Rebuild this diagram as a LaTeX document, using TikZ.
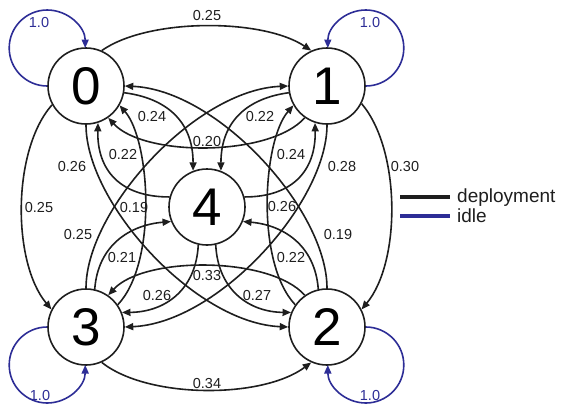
\documentclass[tikz,border=0pt]{standalone}
\usepackage{fontspec}
\setmainfont{Liberation Sans}
\usetikzlibrary{arrows.meta}
\definecolor{idleblue}{RGB}{45,45,150}
\definecolor{edgeblack}{RGB}{30,30,30}
\begin{document}
\begin{tikzpicture}[x=1pt,y=-1pt,
  state/.style={circle,draw=edgeblack,fill=white,line width=1.6pt,minimum size=76pt,inner sep=0pt,font=\fontsize{53}{60}\selectfont},
  dep/.style={draw=edgeblack,line width=1.6pt,-{Triangle[length=8.5pt,width=7pt]}},
  idle/.style={draw=idleblue,line width=1.6pt,-{Triangle[length=8.5pt,width=7pt]}},
  lbl/.style={font=\fontsize{14.5}{17}\selectfont,inner sep=0pt,text=edgeblack},
  ilbl/.style={lbl,text=idleblue},
  leg/.style={font=\fontsize{19}{22}\selectfont,inner sep=0pt,anchor=base west,text=edgeblack}]
\useasboundingbox (0,0) rectangle (561,405);
% states
\node[state] (n0) at (86,86) {0};
\node[state] (n1) at (327,86) {1};
\node[state] (n2) at (327,327) {2};
\node[state] (n3) at (86,327) {3};
\node[state] (n4) at (207,207) {4};
% self loops
\draw[idle] (n0.west) arc[start angle=270,end angle=0,radius=38pt];
\draw[idle] (n1.east) arc[start angle=-90,end angle=180,radius=38pt];
\draw[idle] (n2.east) arc[start angle=90,end angle=-180,radius=38pt];
\draw[idle] (n3.west) arc[start angle=90,end angle=360,radius=38pt];
\node[ilbl] (l00) at (39,23) {1.0};
\node[ilbl] (l11) at (370,23) {1.0};
\node[ilbl] (l22) at (370,395) {1.0};
\node[ilbl] (l33) at (40,395) {1.0};
% outer edges
\draw[dep] (n0.66) .. controls (148,18) and (262,18) .. (n1.114);
\draw[dep] (n1.-27) .. controls (401,150) and (401,262) .. (n2.27);
\draw[dep] (n3.-66) .. controls (148,399) and (262,399) .. (n2.-114);
\draw[dep] (n0.-151) .. controls (12,150) and (12,262) .. (n3.153);
\node[lbl] (l01) at (207,16) {0.25};
\node[lbl] (l12) at (405,167) {0.30};
\node[lbl] (l32) at (207,383) {0.34};
\node[lbl] (l03) at (39,208) {0.25};
% to and from 4
\draw[dep] (n0.-10) .. controls (165,98) and (193,120) .. (n4.111);
\draw[dep] (n1.190) .. controls (249,98) and (221,120) .. (n4.69);
\draw[dep] (n4.165) .. controls (120,197) and (97,170) .. (n0.-72);
\draw[dep] (n4.15) .. controls (293,197) and (316,170) .. (n1.-108);
\draw[dep] (n3.77) .. controls (98,245) and (130,225) .. (n4.-158);
\draw[dep] (n2.103) .. controls (315,245) and (283,225) .. (n4.-22);
\draw[dep] (n4.-103) .. controls (196,290) and (165,312) .. (n3.22);
\draw[dep] (n4.-77) .. controls (218,290) and (249,312) .. (n2.158);
\node[lbl] (l04) at (152,117) {0.24};
\node[lbl] (l14) at (260,117) {0.22};
\node[lbl] (l40) at (123,155) {0.22};
\node[lbl] (l41) at (291,155) {0.24};
\node[lbl] (l34) at (122,258) {0.21};
\node[lbl] (l24) at (291,258) {0.22};
\node[lbl] (l43) at (157,295) {0.26};
\node[lbl] (l42) at (257,295) {0.27};
% inner arcs between corners
\draw[dep] (n1.-125) .. controls (270,157) and (144,157) .. (n0.-55);
\draw[dep] (n2.125) .. controls (270,256) and (144,256) .. (n3.55);
\draw[dep] (n3.35) .. controls (158,262) and (150,140) .. (n0.-30);
\draw[dep] (n2.145) .. controls (255,262) and (263,140) .. (n1.-150);
\draw[dep] (n3.north) .. controls (86,210) and (195,90) .. (n1.west);
\draw[dep] (n2.north) .. controls (327,210) and (218,90) .. (n0.east);
\draw[dep] (n0.south) .. controls (86,203) and (195,323) .. (n2.west);
\draw[dep] (n1.south) .. controls (327,203) and (218,323) .. (n3.east);
\node[lbl] (l10) at (207,142) {0.20};
\node[lbl] (l23) at (207,275) {0.33};
\node[lbl] (l30) at (134,208) {0.19};
\node[lbl] (l21) at (282,207) {0.26};
\node[lbl] (l31) at (78,235) {0.25};
\node[lbl] (l20) at (338,235) {0.19};
\node[lbl] (l02) at (72,167) {0.26};
\node[lbl] (l13) at (342,167) {0.28};
% legend
\coordinate (d1) at (400,197);
\coordinate (d2) at (450,197);
\coordinate (i1) at (400,216);
\coordinate (i2) at (450,216);
\draw[edgeblack,line width=4.5pt] (d1) -- (d2);
\draw[idleblue,line width=4.5pt] (i1) -- (i2);
\node[leg] (ld) at (457,202) {deployment};
\node[leg] (li) at (457,222) {idle};
\end{tikzpicture}
\end{document}
